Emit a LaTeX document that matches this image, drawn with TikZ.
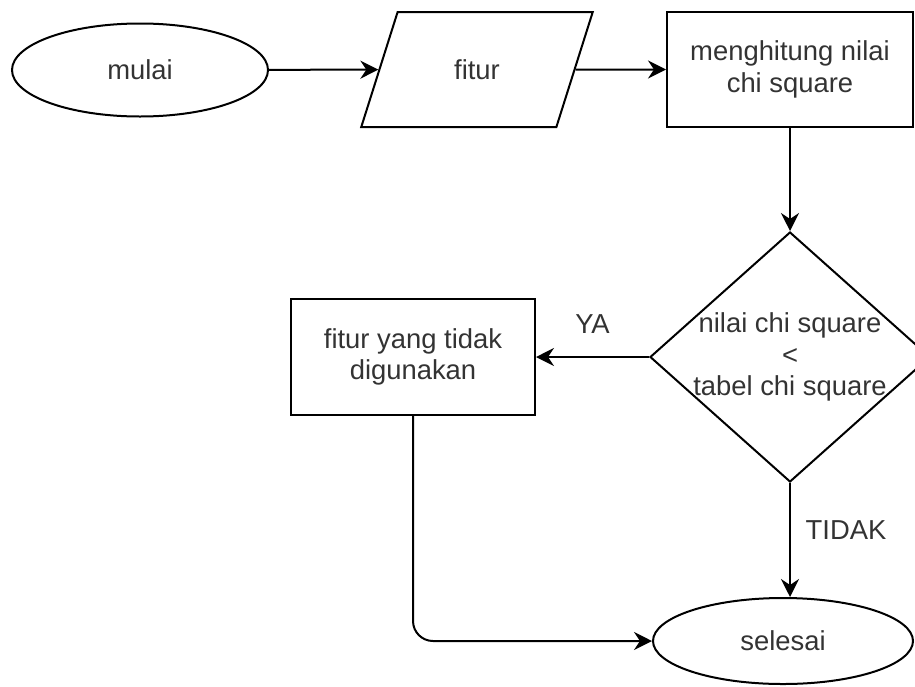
\documentclass[tikz,border=0pt]{standalone}
\usepackage{fontspec}
\setmainfont{Liberation Sans}
\usetikzlibrary{shapes.geometric,arrows.meta,positioning}

\begin{document}
\begin{tikzpicture}[x=0.5pt,y=-0.5pt,
  every node/.style={font=\fontsize{13.7}{15.8}\selectfont,text=black!80,align=center},
  every label/.style={font=\fontsize{13.7}{15.8}\selectfont,text=black!80,align=center},
  shp/.style={draw,line width=1pt},
  arr/.style={line width=1pt,-{Stealth[length=9pt,width=9pt,inset=3pt]}}]
\useasboundingbox (0,0) rectangle (915,686);
\node[shp,ellipse,minimum width=128pt,minimum height=46.5pt] (mulai) at (140,70) {mulai};
\node[shp,trapezium,trapezium left angle=68,trapezium right angle=112,trapezium stretches=true,minimum width=116pt,minimum height=57.5pt] (fitur) at (477,69.5) {fitur};
\node[shp,rectangle,minimum width=123pt,minimum height=57.5pt] (hitung) at (790,69.5) {menghitung nilai\\chi square};
\node[shp,diamond,minimum width=140pt,minimum height=125pt,inner sep=0pt,label={center:nilai chi square\\<\\tabel chi square}] (cek) at (790,357) {};
\node[shp,rectangle,minimum width=122pt,minimum height=58pt] (tidakpakai) at (413,357) {fitur yang tidak\\digunakan};
\node[shp,ellipse,minimum width=130pt,minimum height=43pt] (selesai) at (783,641) {selesai};
\draw[arr] (mulai) -- (fitur);
\draw[arr] (fitur) -- (hitung);
\draw[arr] (hitung) -- (cek);
\draw[arr] (cek) -- node[midway,above=8pt]{YA} (tidakpakai);
\draw[arr] (cek.south) -- node[midway,right=4pt,yshift=5pt]{TIDAK} (cek.south |- selesai.north);
\draw[arr,rounded corners=10pt] (tidakpakai.south) |- (selesai.west);
\end{tikzpicture}
\end{document}
